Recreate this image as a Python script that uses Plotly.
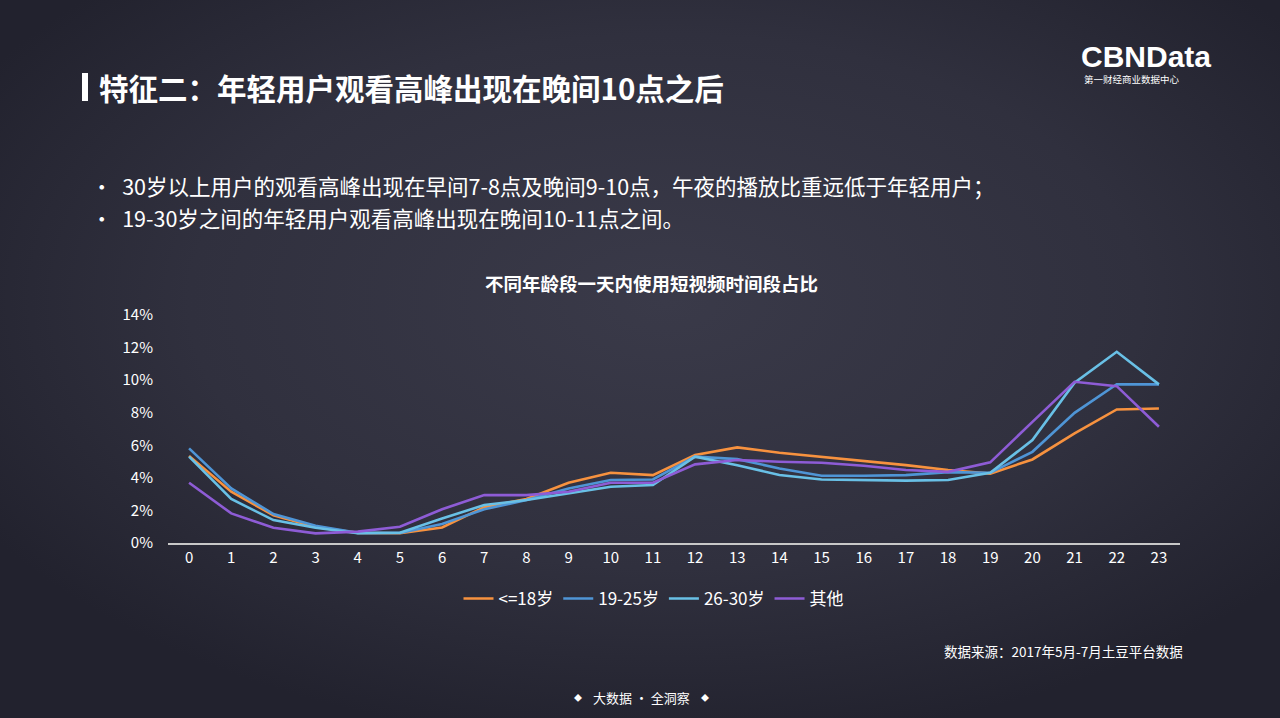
import base64
import plotly.graph_objects as go

# hours of the day
hours = list(range(24))
hour_labels = [str(h) for h in hours]

# share of viewing time per hour (%)
le18 = [5.35, 3.15, 1.70, 0.98, 0.62, 0.60, 0.95, 2.20, 2.70, 3.70, 4.31, 4.17,
        5.40, 5.87, 5.54, 5.30, 5.05, 4.78, 4.48, 4.26, 5.13, 6.73, 8.20, 8.26]
a19_25 = [5.81, 3.35, 1.78, 1.06, 0.62, 0.62, 1.17, 2.07, 2.64, 3.35, 3.87, 3.90,
          5.30, 5.15, 4.58, 4.13, 4.13, 4.17, 4.35, 4.31, 5.60, 7.99, 9.75, 9.74]
a26_30 = [5.30, 2.70, 1.41, 0.94, 0.60, 0.63, 1.50, 2.33, 2.64, 3.05, 3.45, 3.56,
          5.30, 4.78, 4.17, 3.90, 3.85, 3.83, 3.87, 4.31, 6.32, 9.84, 11.74, 9.74]
others = [3.70, 1.82, 0.94, 0.59, 0.70, 1.00, 2.07, 2.94, 2.94, 3.15, 3.70, 3.70,
          4.83, 5.10, 4.99, 4.93, 4.74, 4.48, 4.37, 4.95, 7.44, 9.90, 9.63, 7.14]

series_names = ["<=18岁", "19-25岁", "26-30岁", "其他"]
series_values = [le18, a19_25, a26_30, others]
series_colors = ["#F7923F", "#4F95D6", "#69C0E6", "#8E5CD6"]

y_ticks = [0, 2, 4, 6, 8, 10, 12, 14]

W, H = 1280, 718
L, R, T, B = 168, 1180, 315, 543  # plot area in pixels
FONT = "Noto Sans CJK SC, Microsoft YaHei, sans-serif"


def px(x):
    return (x - L) / (R - L)


def py(y):
    return (B - y) / (B - T)


fig = go.Figure()
for name, vals, col in zip(series_names, series_values, series_colors):
    fig.add_trace(go.Scatter(
        x=hours, y=vals, name=name, mode="lines",
        line=dict(color=col, width=2.6),
    ))

# dark slide background with a soft glow
svg = f"""<svg xmlns='http://www.w3.org/2000/svg' width='{W}' height='{H}'>
<defs><radialGradient id='g' cx='0.52' cy='0.42' r='0.62'>
<stop offset='0' stop-color='#3a3a49'/><stop offset='0.6' stop-color='#30303e'/>
<stop offset='1' stop-color='#22222e'/></radialGradient></defs>
<rect width='{W}' height='{H}' fill='url(#g)'/></svg>"""
bg = "data:image/svg+xml;base64," + base64.b64encode(svg.encode()).decode()

white = "#FFFFFF"


def note(x, y, text, size, anchor="left", family=None):
    f = dict(size=size, color=white)
    if family:
        f["family"] = family
    return dict(x=px(x), y=py(y), xref="paper", yref="paper", text=text,
                showarrow=False, xanchor=anchor, yanchor="middle", font=f)


annotations = [
    note(97, 87, "<b>特征二：年轻用户观看高峰出现在晚间10点之后</b>", 29.5),
    note(1146, 56, "<b>CBNData</b>", 30, "center", "Liberation Sans, Arial, sans-serif"),
    note(1082, 79, "第一财经商业数据中心", 9.5),
    note(89, 186, "•  30岁以上用户的观看高峰出现在早间7-8点及晚间9-10点，午夜的播放比重远低于年轻用户；", 21.5),
    note(89, 217, "•  19-30岁之间的年轻用户观看高峰出现在晚间10-11点之间。", 21.5),
    note(651, 283, "<b>不同年龄段一天内使用短视频时间段占比</b>", 18.5, "center"),
    note(1185, 651, "数据来源：2017年5月-7月土豆平台数据", 13.5, "right"),
    note(578, 697, "◆", 8, "center"),
    note(641, 697, "大数据 · 全洞察", 13, "center"),
    note(705, 697, "◆", 8, "center"),
]

fig.update_layout(
    width=W, height=H,
    margin=dict(l=L, r=W - R, t=T, b=H - B),
    paper_bgcolor="#2b2b39",
    plot_bgcolor="rgba(0,0,0,0)",
    font=dict(family=FONT, color=white),
    showlegend=True,
    legend=dict(orientation="h", x=px(654), y=py(599), xanchor="center", yanchor="middle",
                font=dict(size=17, color=white), bgcolor="rgba(0,0,0,0)",
                traceorder="normal"),
    xaxis=dict(range=[-0.5, 23.5], tickmode="array", tickvals=hours, ticktext=hour_labels,
               showgrid=False, zeroline=False, showline=True, linecolor="#C8C8C8",
               linewidth=1.5, ticks="", tickfont=dict(size=15, color=white),
               fixedrange=True),
    yaxis=dict(range=[0, 14], tickmode="array", tickvals=y_ticks,
               ticktext=[f"{v}%" for v in y_ticks], showgrid=False, zeroline=False,
               showline=False, ticks="", ticklabelstandoff=14,
               tickfont=dict(size=15, color=white), fixedrange=True),
    images=[dict(source=bg, xref="paper", yref="paper", x=px(0), y=py(0),
                 sizex=W / (R - L), sizey=H / (B - T), sizing="stretch",
                 xanchor="left", yanchor="top", layer="below")],
    shapes=[dict(type="rect", xref="paper", yref="paper", x0=px(82), x1=px(88),
                 y0=py(101), y1=py(73), fillcolor=white, line=dict(width=0))],
    annotations=annotations,
)

fig.write_html("out.html", config={"displayModeBar": False},
               post_script="document.body.style.margin='0';")
